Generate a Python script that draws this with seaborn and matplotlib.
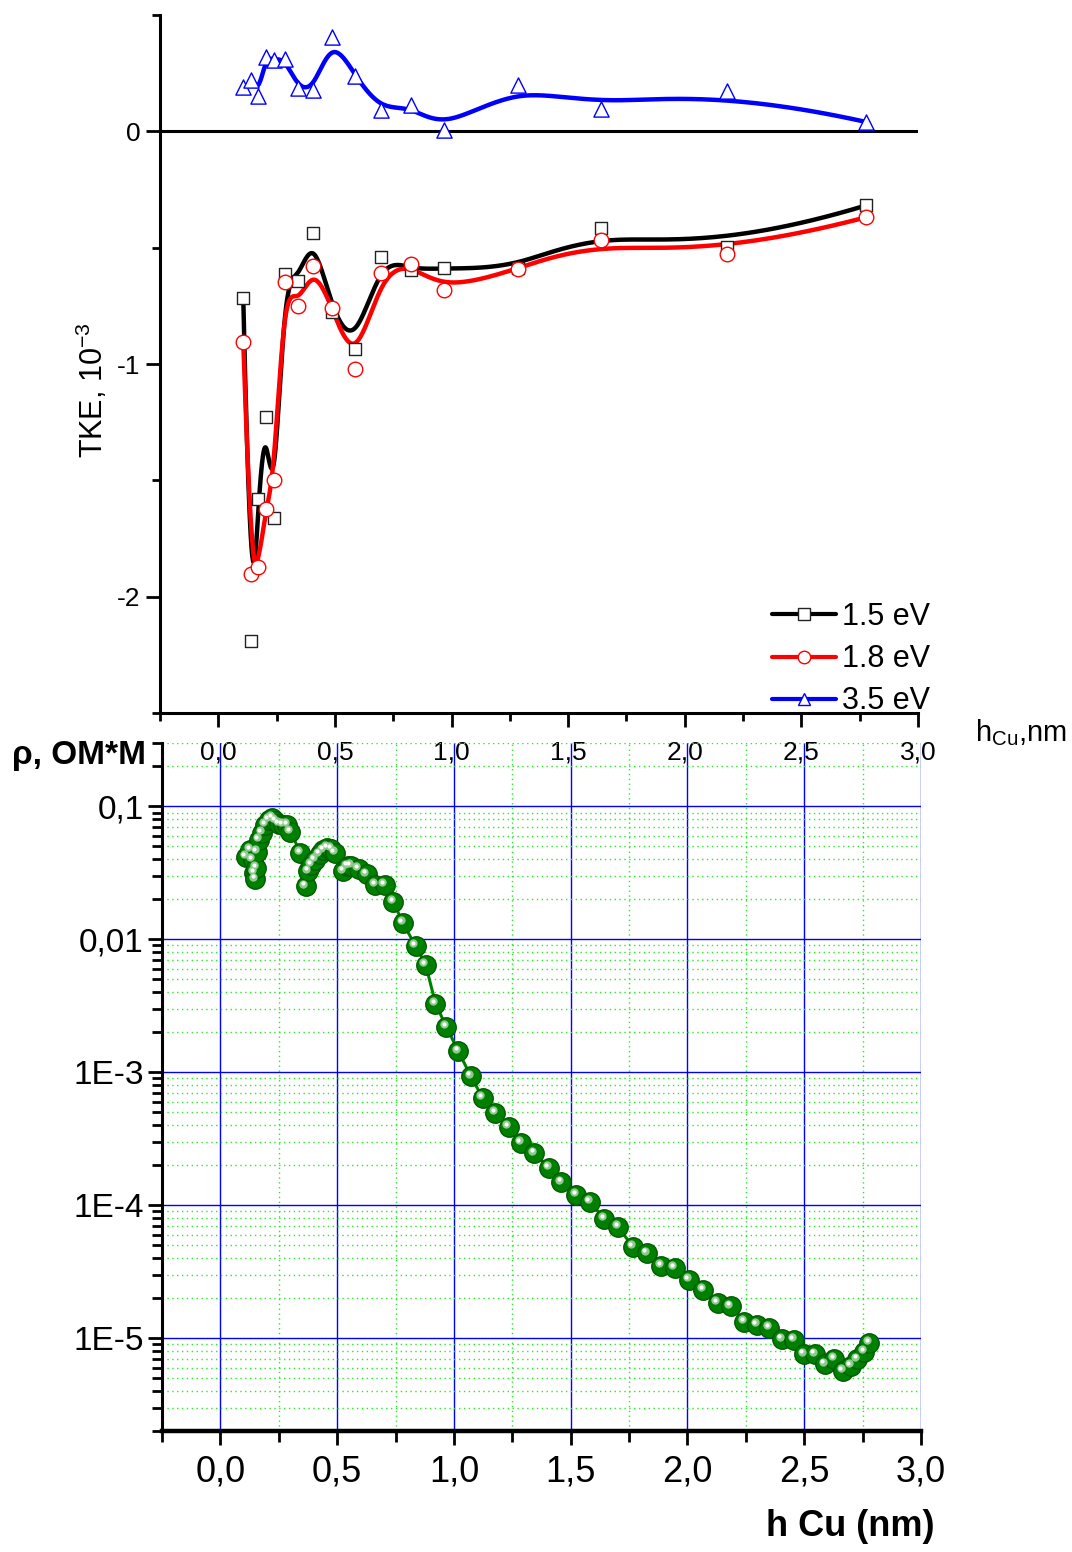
import numpy as np
import matplotlib
matplotlib.use("Agg")
import matplotlib.pyplot as plt
import matplotlib.transforms as mtransforms
from matplotlib.lines import Line2D
from matplotlib.ticker import MultipleLocator, FuncFormatter, LogLocator, NullFormatter
import seaborn as sns

# ---- TKE vs copper thickness (top panel) ----
h_tke = [0.107, 0.141, 0.171, 0.203, 0.238, 0.285, 0.341, 0.408, 0.488,
         0.587, 0.699, 0.826, 0.967, 1.286, 1.640, 2.183, 2.779]
tke_15 = [-0.718, -2.189, -1.580, -1.229, -1.660, -0.612, -0.645, -0.436, -0.777,
          -0.935, -0.538, -0.595, -0.588, -0.589, -0.417, -0.499, -0.318]
tke_18 = [-0.906, -1.902, -1.874, -1.625, -1.497, -0.648, -0.751, -0.579, -0.758,
          -1.021, -0.608, -0.569, -0.684, -0.591, -0.466, -0.526, -0.369]
tke_35 = [0.189, 0.219, 0.152, 0.320, 0.308, 0.313, 0.188, 0.176, 0.406,
          0.237, 0.090, 0.112, 0.004, 0.201, 0.098, 0.172, 0.040]
series_labels = ["1.5 eV", "1.8 eV", "3.5 eV"]

# ---- resistivity vs copper thickness (bottom panel) ----
h_cu = [0.110, 0.128, 0.138, 0.145, 0.150, 0.153, 0.157, 0.165, 0.178, 0.192,
        0.207, 0.222, 0.236, 0.250, 0.268, 0.286, 0.300, 0.343, 0.365, 0.376,
        0.390, 0.405, 0.425, 0.440, 0.458, 0.475, 0.491, 0.526, 0.545, 0.559,
        0.592, 0.626, 0.664, 0.703, 0.741, 0.781, 0.836, 0.879, 0.921, 0.968,
        1.019, 1.072, 1.123, 1.177, 1.234, 1.287, 1.345, 1.406, 1.460, 1.524,
        1.582, 1.644, 1.704, 1.766, 1.826, 1.888, 1.945, 2.006, 2.067, 2.129,
        2.185, 2.244, 2.297, 2.350, 2.405, 2.455, 2.498, 2.546, 2.589, 2.628,
        2.666, 2.700, 2.728, 2.757, 2.779]
rho = [0.0417, 0.0473, 0.0398, 0.0316, 0.0282, 0.0347, 0.0457, 0.0562, 0.0631, 0.0724,
       0.0794, 0.0820, 0.0776, 0.0741, 0.0724, 0.0724, 0.0646, 0.0447, 0.0251, 0.0324,
       0.0363, 0.0398, 0.0437, 0.0468, 0.0490, 0.0479, 0.0447, 0.0324, 0.0355, 0.0359,
       0.0339, 0.0309, 0.0257, 0.0257, 0.0191, 0.0133, 0.00891, 0.00646, 0.00329, 0.00219,
       0.00144, 9.35e-4, 6.43e-4, 4.95e-4, 3.89e-4, 2.95e-4, 2.45e-4, 1.91e-4, 1.49e-4, 1.20e-4,
       1.06e-4, 7.91e-5, 6.85e-5, 4.85e-5, 4.35e-5, 3.49e-5, 3.39e-5, 2.74e-5, 2.30e-5, 1.85e-5,
       1.73e-5, 1.33e-5, 1.26e-5, 1.20e-5, 9.8e-6, 9.7e-6, 7.55e-6, 7.55e-6, 6.35e-6, 7.0e-6,
       5.66e-6, 6.18e-6, 6.93e-6, 7.87e-6, 9.25e-6]


def bspline_curve(xs, ys, n=800, k=3):
    """Clamped uniform cubic B-spline using the data points as control points."""
    P = np.column_stack([xs, ys]).astype(float)
    m = len(P)
    knots = np.concatenate([np.zeros(k), np.linspace(0, 1, m - k + 1), np.ones(k)])
    u = np.linspace(0, 1, n)
    N = np.zeros((n, len(knots) - 1))
    for i in range(len(knots) - 1):
        N[:, i] = (u >= knots[i]) & (u < knots[i + 1])
    N[-1, :] = 0
    N[-1, m - 1] = 1
    for p in range(1, k + 1):
        Nn = np.zeros((n, len(knots) - 1 - p))
        for i in range(len(knots) - 1 - p):
            d1 = knots[i + p] - knots[i]
            d2 = knots[i + p + 1] - knots[i + 1]
            a = (u - knots[i]) / d1 * N[:, i] if d1 > 0 else 0.0
            b = (knots[i + p + 1] - u) / d2 * N[:, i + 1] if d2 > 0 else 0.0
            Nn[:, i] = a + b
        N = Nn
    C = N @ P
    return C[:, 0], C[:, 1]


sns.set_theme(style="ticks")
plt.rcParams["font.family"] = ["Liberation Sans", "DejaVu Sans"]
plt.rcParams["mathtext.fontset"] = "custom"
plt.rcParams["mathtext.rm"] = "Liberation Sans"
plt.rcParams["mathtext.it"] = "Liberation Sans:italic"
plt.rcParams["mathtext.bf"] = "Liberation Sans:bold"
plt.rcParams["axes.unicode_minus"] = False
for key in ("text.color", "axes.labelcolor", "xtick.color", "ytick.color",
            "xtick.labelcolor", "ytick.labelcolor", "axes.edgecolor"):
    plt.rcParams[key] = "black"

W, H = 1072, 1552
fig = plt.figure(figsize=(W / 100, H / 100), dpi=100)
ax1 = fig.add_axes([160 / W, 1 - 713 / H, 758 / W, 698 / H])
ax2 = fig.add_axes([162 / W, 1 - 1431 / H, 759 / W, 688 / H])
ax2.patch.set_alpha(0)

comma = FuncFormatter(lambda v, pos: f"{v:.1f}".replace(".", ","))

# ---------------- top panel ----------------
ax1.axhline(0, color="black", lw=2.2, zorder=1)
styles = [(tke_15, "black", "s", 75, "#222222"),
          (tke_18, "red", "o", 110, "red"),
          (tke_35, "blue", "^", 120, "blue")]
handles = []
for vals, col, mk, size, ec in styles:
    cx, cy = bspline_curve(h_tke, vals)
    sns.lineplot(x=cx, y=cy, sort=False, estimator=None, color=col, lw=3.2,
                 ax=ax1, legend=False, zorder=2)
    sns.scatterplot(x=h_tke, y=vals, marker=mk, s=size, color="white",
                    edgecolor=ec, linewidth=1.0, ax=ax1, legend=False, zorder=3)
    handles.append(Line2D([], [], color=col, lw=3, marker=mk, ms=9 if mk != "s" else 8,
                          mfc="white", mec=ec, mew=1.0))

ax1.set_xlim(-0.25, 3.0)
ax1.set_ylim(-2.5, 0.5)
ax1.xaxis.set_major_locator(MultipleLocator(0.5))
ax1.xaxis.set_minor_locator(MultipleLocator(0.25))
ax1.yaxis.set_major_locator(MultipleLocator(1))
ax1.yaxis.set_minor_locator(MultipleLocator(0.5))
ax1.xaxis.set_major_formatter(comma)
ax1.yaxis.set_major_formatter(FuncFormatter(lambda v, pos: f"{v:.0f}"))
ax1.tick_params(which="major", length=10, width=2, labelsize=19, direction="out",
                color="black", labelcolor="black")
ax1.tick_params(which="minor", length=6, width=2, direction="out", color="black")
ax1.tick_params(axis="x", pad=10)
ax1.tick_params(axis="y", pad=4)
for s in ("top", "right"):
    ax1.spines[s].set_visible(False)
for s in ("left", "bottom"):
    ax1.spines[s].set_linewidth(2.2)
    ax1.spines[s].set_color("black")
ax1.set_xlabel("")
ax1.set_ylabel("")

ax1.legend(handles, series_labels, loc="upper left",
           bbox_to_anchor=(772 / W, 1 - 602 / H), bbox_transform=fig.transFigure,
           frameon=False, fontsize=22, handlelength=2.1, handletextpad=0.2,
           labelspacing=0.4, borderpad=0, borderaxespad=0)

fig.text(92 / W, 1 - 390 / H, r"TKE, 10$^{-3}$", rotation=90, fontsize=22,
         ha="center", va="center")
fig.text(1021 / W, 1 - 733 / H, r"h$_{\mathrm{Cu}}$,nm", fontsize=21,
         ha="center", va="center")

# ---------------- bottom panel ----------------
ax2.set_yscale("log")
ax2.set_axisbelow(True)
sns.lineplot(x=h_cu, y=rho, sort=False, estimator=None, color="#008000", lw=2.2,
             marker="o", markersize=14, markerfacecolor="#008000",
             markeredgecolor="#005c00", markeredgewidth=1.0, ax=ax2, legend=False,
             zorder=3)
glow = mtransforms.offset_copy(ax2.transData, fig=fig, x=-2.2, y=2.6, units="dots")
spark = mtransforms.offset_copy(ax2.transData, fig=fig, x=-2.6, y=3.0, units="dots")
ax2.plot(h_cu, rho, ls="none", marker="o", ms=6, mfc="#8fc98f", mec="none",
         transform=glow, zorder=4)
ax2.plot(h_cu, rho, ls="none", marker="o", ms=3, mfc="white", mec="none",
         transform=spark, zorder=5)

ax2.set_xlim(-0.25, 3.0)
ax2.set_ylim(2e-6, 0.3)
ax2.xaxis.set_major_locator(MultipleLocator(0.5))
ax2.xaxis.set_minor_locator(MultipleLocator(0.25))
ax2.xaxis.set_major_formatter(comma)


def rho_label(v, pos):
    e = int(round(np.log10(v)))
    if e >= 0:
        return f"{v:.0f}"
    if e >= -2:
        return f"{v:.{-e}f}".replace(".", ",")
    return f"1E{e}"


ax2.yaxis.set_major_locator(LogLocator(base=10, numticks=20))
ax2.yaxis.set_minor_locator(LogLocator(base=10, subs=np.arange(2, 10), numticks=80))
ax2.yaxis.set_major_formatter(FuncFormatter(rho_label))
ax2.yaxis.set_minor_formatter(NullFormatter())
ax2.grid(which="major", color="#0000ff", lw=1.0, ls="-")
ax2.grid(which="minor", color="#22ee22", lw=1.0, ls=(0, (1, 2.5)))
ax2.tick_params(which="major", length=10, width=2, direction="out", color="black",
                labelcolor="black")
ax2.tick_params(which="minor", length=7, width=2, direction="out", color="black")
ax2.tick_params(axis="x", which="minor", length=8)
ax2.tick_params(axis="x", labelsize=26, pad=7)
ax2.tick_params(axis="y", labelsize=24, pad=3)
for s in ("top", "right"):
    ax2.spines[s].set_visible(False)
ax2.spines["left"].set_linewidth(2.2)
ax2.spines["bottom"].set_linewidth(3.2)
for s in ("left", "bottom"):
    ax2.spines[s].set_color("black")
ax2.set_xlabel("")
ax2.set_ylabel("")

fig.text(12 / W, 1 - 755 / H, "ρ, ОМ*М", fontsize=24, fontweight="bold",
         ha="left", va="center")
fig.text(850 / W, 1 - 1527 / H, "h Cu (nm)", fontsize=26, fontweight="bold",
         ha="center", va="center")

fig.savefig("out.png", dpi=100)
